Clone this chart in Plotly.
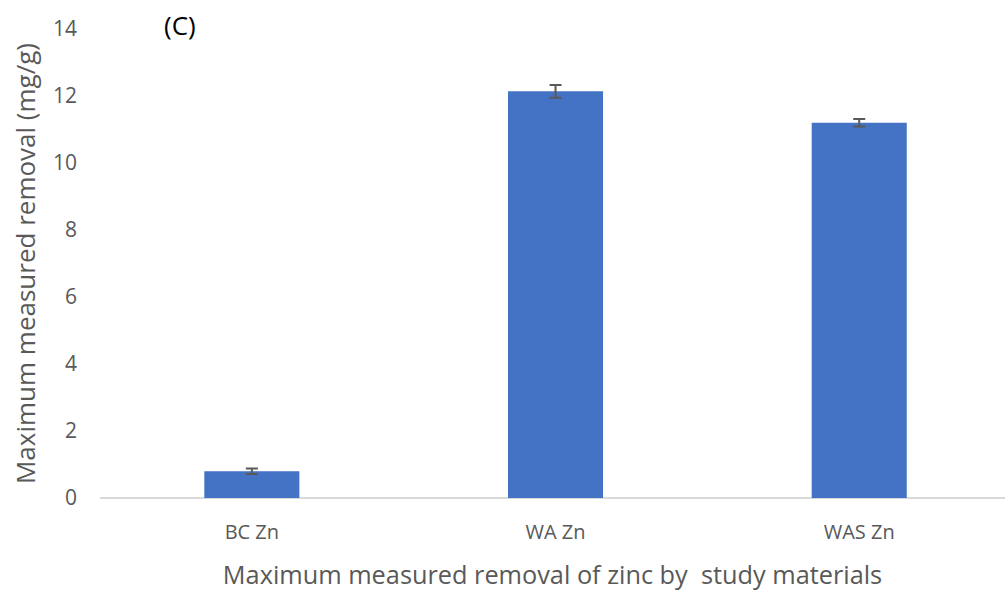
import plotly.graph_objects as go

# Maximum zinc removal by each study material
categories = ["BC Zn", "WA Zn", "WAS Zn"]
removal = [0.80, 12.14, 11.20]
removal_err = [0.08, 0.19, 0.11]
y_ticks = [0, 2, 4, 6, 8, 10, 12, 14]

FONT = "Open Sans, Lato, sans-serif"
TICK_COLOR = "#595959"

fig = go.Figure(
    go.Bar(
        x=list(range(len(categories))),
        y=removal,
        width=0.313,
        marker=dict(color="#4472C4", line=dict(width=0)),
        error_y=dict(
            type="data",
            array=removal_err,
            visible=True,
            color="#595959",
            thickness=2,
            width=6,
        ),
    )
)

fig.update_layout(
    width=1005,
    height=593,
    margin=dict(l=100, r=0, t=29, b=95),
    paper_bgcolor="white",
    plot_bgcolor="white",
    showlegend=False,
    font=dict(family=FONT, color=TICK_COLOR),
    xaxis=dict(
        range=[-0.5, 2.48],
        tickmode="array",
        tickvals=list(range(len(categories))),
        ticktext=categories,
        tickfont=dict(size=20, color=TICK_COLOR),
        showgrid=False,
        showline=False,
        zeroline=False,
        ticks="",
        ticklabelstandoff=20,
        title=dict(
            text="Maximum measured removal of zinc by  study materials",
            font=dict(size=25.3, color=TICK_COLOR),
            standoff=22,
        ),
    ),
    yaxis=dict(
        range=[0, 14],
        tickmode="array",
        tickvals=y_ticks,
        tickfont=dict(size=21, color=TICK_COLOR),
        showgrid=False,
        zeroline=True,
        zerolinecolor="#D9D9D9",
        zerolinewidth=1.5,
        showline=False,
        ticks="",
        ticklabelstandoff=22,
        title=dict(
            text="Maximum measured removal (mg/g)",
            font=dict(size=26, color=TICK_COLOR),
            standoff=9,
        ),
    ),
    annotations=[
        dict(
            text="(C)",
            x=(180 - 100) / 905,
            y=1 + (29 - 25) / 469,
            xref="paper",
            yref="paper",
            xanchor="center",
            yanchor="middle",
            showarrow=False,
            font=dict(size=26, color="#000000", family=FONT),
        )
    ],
)

fig.write_html("out.html")
